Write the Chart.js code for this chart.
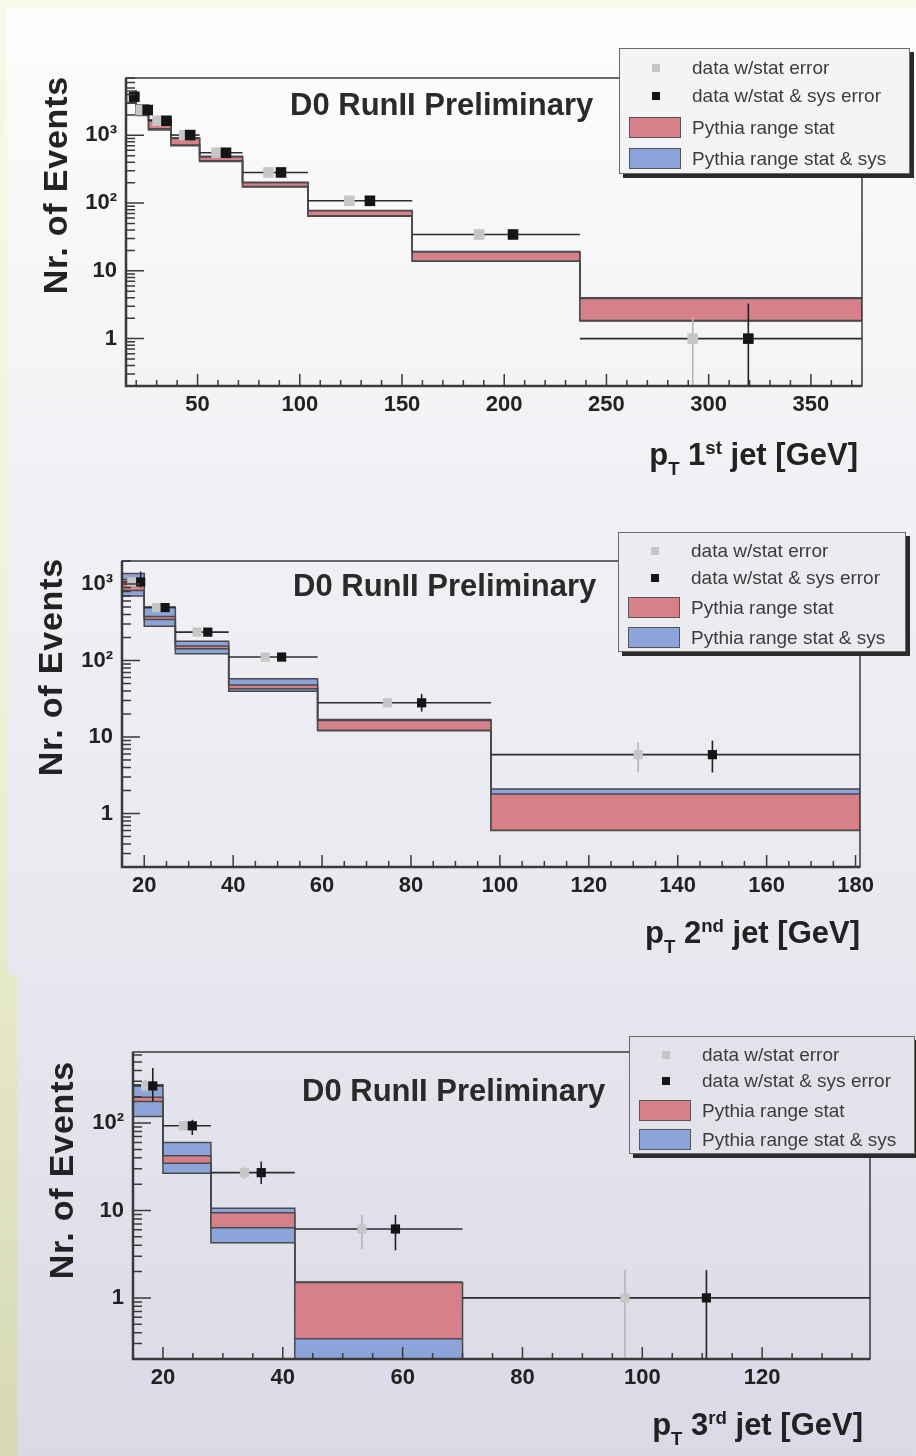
<!DOCTYPE html>
<html>
<head>
<meta charset="utf-8">
<script src="https://cdn.jsdelivr.net/npm/chart.js@4.4.0/dist/chart.umd.min.js"></script>
<style>
body { margin: 0; width: 916px; height: 1456px; position: relative; overflow: hidden;
  background: linear-gradient(#f8f9ea 0%, #eef0d6 50%, #d6d9b3 100%);
  font-family: "Liberation Sans", Arial, sans-serif; color: #232323; }
#bgA { position: absolute; left: 7px; top: 8px; width: 909px; height: 967px;
  background: linear-gradient(#fdfdfd 0%, #f1f1f5 50%, #e7e7ef 100%); }
#bgB { position: absolute; left: 17px; top: 975px; width: 899px; height: 481px;
  background: linear-gradient(#e7e7ef 0%, #d9dae6 100%); }
canvas { position: absolute; left: 0; }
.d0 { position: absolute; font: bold 31px/31px "Liberation Sans", Arial, sans-serif; white-space: nowrap; color: #2a2a2a; }
.xt { position: absolute; left: 0; text-align: right; font: bold 31px/31px "Liberation Sans", Arial, sans-serif; white-space: nowrap; color: #222; }
.xt sub { font-size: 0.6em; vertical-align: -0.55em; line-height: 0; }
.xt sup { font-size: 0.6em; vertical-align: 0.6em; line-height: 0; }
.yt { position: absolute; width: 260px; text-align: right; font: bold 34px/34px "Liberation Sans", Arial, sans-serif;
  letter-spacing: 0.8px; white-space: nowrap; transform: rotate(-90deg); transform-origin: 0 0; color: #222; }
.leg { position: absolute; border: 1.5px solid #6a6a6a; box-shadow: 4px 4px 0 #2a2a2a; }
.leg .row { position: absolute; left: 0; right: 0; height: 24px; }
.leg .mk { position: absolute; left: 32px; top: 8px; width: 8px; height: 8px; }
.leg .sw { position: absolute; left: 9px; top: 1px; width: 52px; height: 21px; border: 1px solid #555; box-sizing: border-box; }
.leg .tx { position: absolute; left: 72px; top: 0; font: 19px/24px "Liberation Sans", Arial, sans-serif; color: #3c3c3c; white-space: nowrap; }
</style>
</head>
<body>
<div id="bgA"></div>
<div id="bgB"></div>
<canvas id="c1" width="916" height="480" style="top:0px"></canvas>
<canvas id="c2" width="916" height="496" style="top:480px"></canvas>
<canvas id="c3" width="916" height="480" style="top:976px"></canvas>

<div class="d0" style="left:290px;top:89px">D0 RunII Preliminary</div>
<div class="d0" style="left:293px;top:570px">D0 RunII Preliminary</div>
<div class="d0" style="left:302px;top:1075px">D0 RunII Preliminary</div>

<div class="yt" style="left:38px;top:336px">Nr. of Events</div>
<div class="yt" style="left:33px;top:818px">Nr. of Events</div>
<div class="yt" style="left:44px;top:1321px">Nr. of Events</div>

<div class="xt" style="top:439px;width:858px">p<sub>T</sub> 1<sup>st</sup> jet [GeV]</div>
<div class="xt" style="top:917px;width:860px">p<sub>T</sub> 2<sup>nd</sup> jet [GeV]</div>
<div class="xt" style="top:1409px;width:863px">p<sub>T</sub> 3<sup>rd</sup> jet [GeV]</div>

<div id="legends"></div>

<script>
// ---- leading jet
const edges1 = [15, 20, 26, 37, 51, 72, 104, 155, 237, 375];
const statLo1 = [3100, 2000, 1250, 720, 420, 175, 65, 14, 1.85];
const statHi1 = [4300, 2700, 1650, 900, 480, 200, 77, 19, 3.9];
const sysLo1 = [3000, 1950, 1200, 700, 410, 172, 64, 13.8, 1.82];
const sysHi1 = [4500, 2800, 1700, 920, 490, 203, 78, 19.3, 4.0];
const dataY1 = [3700, 2355, 1637, 1007, 552, 283, 108, 34.4, 1.0];
const greyX1 = [16.6, 22.3, 30.4, 43.5, 59.3, 84.7, 124.2, 187.7, 292.2];
const blackX1 = [19.1, 25.6, 34.8, 46.4, 63.9, 90.8, 134.3, 204.3, 319.4];
const statErrLo1 = [3550, 2270, 1580, 975, 538, 276, 104, 32.5, 0.05];
const statErrHi1 = [3850, 2440, 1690, 1040, 566, 290, 112, 36.3, 2.08];
const sysErrLo1 = [3300, 2150, 1500, 940, 520, 268, 100, 31, 0.05];
const sysErrHi1 = [4150, 2580, 1780, 1080, 585, 298, 116, 38, 3.29];
const xTicks1 = [50, 100, 150, 200, 250, 300, 350];
const yTicks1 = [1, 10, 100, 1000];
const yLabels1 = ['1', '10', '10²', '10³'];

// ---- second jet
const edges2 = [15, 20, 27, 39, 59, 98, 181];
const statLo2 = [820, 345, 143, 42.7, 12.3, 0.605];
const statHi2 = [1150, 375, 155, 48, 16.5, 1.8];
const sysLo2 = [700, 280, 123, 39.7, 12.1, 0.6];
const sysHi2 = [1370, 500, 178, 57.7, 16.9, 2.09];
const dataY2 = [1066, 492, 235, 111, 28.0, 5.88];
const greyX2 = [17.2, 22.8, 31.9, 47.2, 74.7, 131.1];
const blackX2 = [19.2, 24.7, 34.3, 50.9, 82.4, 147.8];
const statErrLo2 = [1010, 470, 226, 106, 25.2, 3.44];
const statErrHi2 = [1125, 515, 245, 116, 31.0, 8.5];
const sysErrLo2 = [900, 440, 215, 103, 21.5, 3.44];
const sysErrHi2 = [1450, 560, 258, 120, 36.7, 8.97];
const xTicks2 = [20, 40, 60, 80, 100, 120, 140, 160, 180];
const yTicks2 = [1, 10, 100, 1000];
const yLabels2 = ['1', '10', '10²', '10³'];

// ---- third jet
const edges3 = [15, 20, 28, 42, 70, 138];
const statLo3 = [177, 34.8, 6.35, 0.342];
const statHi3 = [197, 42.2, 9.4, 1.5];
const sysLo3 = [119, 26.7, 4.27, 0.1];
const sysHi3 = [275, 60, 10.6, 1.52];
const dataY3 = [266, 93, 27.1, 6.14, 1.0];
const greyX3 = [17.1, 23.4, 33.6, 53.2, 97.1];
const blackX3 = [18.3, 24.9, 36.4, 58.8, 110.7];
const statErrLo3 = [225, 83, 23, 3.62, 0.05];
const statErrHi3 = [315, 104, 32, 8.88, 2.08];
const sysErrLo3 = [177, 73, 20.1, 3.5, 0.05];
const sysErrHi3 = [427, 109, 36.3, 8.9, 2.08];
const xTicks3 = [20, 40, 60, 80, 100, 120];
const yTicks3 = [1, 10, 100];
const yLabels3 = ['1', '10', '10²'];

const legendText = ['data w/stat error', 'data w/stat & sys error', 'Pythia range stat', 'Pythia range stat & sys'];

const RED = '#d6808a';
const BLUE = '#8ca4da';
const GREY = '#c6c6c6';
const BLACK = '#151515';
const EDGE = '#4a4a4a';
const FONT = '"Liberation Sans", Arial, sans-serif';

function steps(edges, vals) {
  const p = vals.map((v, i) => ({x: edges[i], y: v}));
  p.push({x: edges[vals.length], y: vals[vals.length - 1]});
  return p;
}
function pts(xs, ys) {
  return xs.map((x, i) => ({x: x, y: ys[i]}));
}

// error bars, bin lines and band side edges, drawn just before the markers
function errorPlugin(d) {
  return {
    id: 'errs',
    beforeDatasetDraw(chart, args) {
      if (args.index !== 4) return;
      const {ctx, chartArea: a, scales: {x, y}} = chart;
      ctx.save();
      ctx.beginPath();
      ctx.rect(a.left, a.top, a.right - a.left, a.bottom - a.top);
      ctx.clip();
      const seg = (x0, y0, x1, y1) => {
        ctx.beginPath();
        ctx.moveTo(x.getPixelForValue(x0), y.getPixelForValue(y0));
        ctx.lineTo(x.getPixelForValue(x1), y.getPixelForValue(y1));
        ctx.stroke();
      };
      ctx.strokeStyle = EDGE;
      ctx.lineWidth = 1.5;
      const nb = d.sysHi.length;
      seg(d.edges[nb], d.sysLo[nb - 1], d.edges[nb], d.sysHi[nb - 1]);
      ctx.strokeStyle = '#2c2c2c';
      ctx.lineWidth = 1.6;
      d.dataY.forEach((v, i) => seg(d.edges[i], v, d.edges[i + 1], v));
      ctx.strokeStyle = '#b4b4b4';
      d.greyX.forEach((gx, i) => seg(gx, d.statErrLo[i], gx, d.statErrHi[i]));
      ctx.strokeStyle = '#222';
      d.blackX.forEach((bx, i) => seg(bx, d.sysErrLo[i], bx, d.sysErrHi[i]));
      ctx.restore();
    }
  };
}

// ROOT style frame with inward tick marks
function framePlugin(xMinor, xMajor) {
  return {
    id: 'frame',
    afterDatasetsDraw(chart) {
      const {ctx, chartArea: a, scales: {x, y}} = chart;
      ctx.save();
      ctx.strokeStyle = '#3a3a3a';
      ctx.lineWidth = 1.5;
      ctx.beginPath();
      for (let v = Math.ceil(x.min / xMinor) * xMinor; v <= x.max + 1e-9; v += xMinor) {
        const px = x.getPixelForValue(v);
        const major = Math.abs(v / xMajor - Math.round(v / xMajor)) < 1e-6;
        ctx.moveTo(px, a.bottom);
        ctx.lineTo(px, a.bottom - (major ? 12 : 6));
      }
      for (let e = -1; e <= 4; e++) {
        for (let m = 1; m <= 9; m++) {
          const v = m * Math.pow(10, e);
          if (v < y.min || v > y.max) continue;
          const py = y.getPixelForValue(v);
          ctx.moveTo(a.left, py);
          ctx.lineTo(a.left + (m === 1 ? 18 : 9), py);
        }
      }
      ctx.stroke();
      ctx.lineWidth = 1.5;
      ctx.strokeRect(a.left, a.top, a.right - a.left, a.bottom - a.top);
      ctx.lineWidth = 2.5;
      ctx.beginPath();
      ctx.moveTo(a.left, a.top);
      ctx.lineTo(a.left, a.bottom);
      ctx.lineTo(a.right, a.bottom);
      ctx.stroke();
      ctx.restore();
    }
  };
}

function drawPanel(id, d, g) {
  const line = (vals, extra) => Object.assign({
    data: steps(d.edges, vals), stepped: 'before', borderColor: EDGE, borderWidth: 1.5,
    pointRadius: 0, fill: false
  }, extra);
  new Chart(document.getElementById(id), {
    type: 'line',
    data: {
      datasets: [
        line(d.sysHi, {fill: '+1', backgroundColor: BLUE, order: 6}),
        line(d.sysLo, {order: 5}),
        line(d.statHi, {fill: '+1', backgroundColor: RED, order: 4}),
        line(d.statLo, {order: 3}),
        {data: pts(d.greyX, d.dataY), showLine: false, pointStyle: 'rect', pointRadius: g.mk,
          backgroundColor: GREY, borderWidth: 0, order: 2},
        {data: pts(d.blackX, d.dataY), showLine: false, pointStyle: 'rect', pointRadius: g.mk,
          backgroundColor: BLACK, borderWidth: 0, order: 1}
      ]
    },
    options: {
      responsive: false,
      animation: false,
      events: [],
      layout: {padding: {left: 0, top: g.top, right: g.right, bottom: g.bottom}},
      plugins: {legend: {display: false}, tooltip: {enabled: false}},
      scales: {
        x: {
          type: 'linear', min: d.edges[0], max: d.edges[d.edges.length - 1],
          grid: {display: false, drawTicks: false}, border: {display: false},
          afterBuildTicks: s => { s.ticks = d.xTicks.map(v => ({value: v})); },
          afterFit: s => { s.height = 40; s.paddingLeft = 0; s.paddingRight = 0; },
          ticks: {autoSkip: false, maxRotation: 0, padding: 6, color: '#222',
            font: {family: FONT, size: 22, weight: 'bold'}}
        },
        y: {
          type: 'logarithmic', min: g.yMin, max: g.yMax,
          grid: {display: false, drawTicks: false}, border: {display: false},
          afterBuildTicks: s => { s.ticks = d.yTicks.map(v => ({value: v})); },
          afterFit: s => { s.width = g.yw; s.paddingTop = 0; s.paddingBottom = 0; },
          ticks: {autoSkip: false, padding: 9, color: '#222',
            callback: (v, i) => d.yLabels[i],
            font: {family: FONT, size: 22, weight: 'bold'}}
        }
      }
    },
    plugins: [errorPlugin(d), framePlugin(g.xMinor, g.xMajor)]
  });
}

drawPanel('c1', {
  edges: edges1, statLo: statLo1, statHi: statHi1, sysLo: sysLo1, sysHi: sysHi1,
  dataY: dataY1, greyX: greyX1, blackX: blackX1,
  statErrLo: statErrLo1, statErrHi: statErrHi1, sysErrLo: sysErrLo1, sysErrHi: sysErrHi1,
  xTicks: xTicks1, yTicks: yTicks1, yLabels: yLabels1
}, {top: 78, right: 54, bottom: 54, yw: 126, yMin: 0.2, yMax: 7000, mk: 7.5, xMinor: 10, xMajor: 50});

drawPanel('c2', {
  edges: edges2, statLo: statLo2, statHi: statHi2, sysLo: sysLo2, sysHi: sysHi2,
  dataY: dataY2, greyX: greyX2, blackX: blackX2,
  statErrLo: statErrLo2, statErrHi: statErrHi2, sysErrLo: sysErrLo2, sysErrHi: sysErrHi2,
  xTicks: xTicks2, yTicks: yTicks2, yLabels: yLabels2
}, {top: 81, right: 56, bottom: 69, yw: 122, yMin: 0.2, yMax: 2000, mk: 6.5, xMinor: 5, xMajor: 20});

drawPanel('c3', {
  edges: edges3, statLo: statLo3, statHi: statHi3, sysLo: sysLo3, sysHi: sysHi3,
  dataY: dataY3, greyX: greyX3, blackX: blackX3,
  statErrLo: statErrLo3, statErrHi: statErrHi3, sysErrLo: sysErrLo3, sysErrHi: sysErrHi3,
  xTicks: xTicks3, yTicks: yTicks3, yLabels: yLabels3
}, {top: 76, right: 46, bottom: 57, yw: 133, yMin: 0.2, yMax: 650, mk: 6.5, xMinor: 5, xMajor: 20});

// legends, opaque so the frame line stops at their edge
const legendBoxes = [
  {left: 619, top: 48, w: 289, h: 124, bg: '#f4f4f6'},
  {left: 618, top: 532, w: 286, h: 118, bg: '#ebebf0'},
  {left: 629, top: 1036, w: 284, h: 116, bg: '#e2e2ea'}
];
const rowPos = [0.153, 0.38, 0.636, 0.888];
const holder = document.getElementById('legends');
legendBoxes.forEach(b => {
  const box = document.createElement('div');
  box.className = 'leg';
  box.style.cssText = `left:${b.left}px;top:${b.top}px;width:${b.w}px;height:${b.h}px;background:${b.bg}`;
  legendText.forEach((t, i) => {
    const row = document.createElement('div');
    row.className = 'row';
    row.style.top = (rowPos[i] * b.h - 12) + 'px';
    let key;
    if (i < 2) {
      key = `<span class="mk" style="background:${i === 0 ? GREY : BLACK}"></span>`;
    } else {
      key = `<span class="sw" style="background:${i === 2 ? RED : BLUE}"></span>`;
    }
    row.innerHTML = key + `<span class="tx"></span>`;
    row.querySelector('.tx').textContent = t;
    box.appendChild(row);
  });
  holder.appendChild(box);
});
</script>
</body>
</html>
